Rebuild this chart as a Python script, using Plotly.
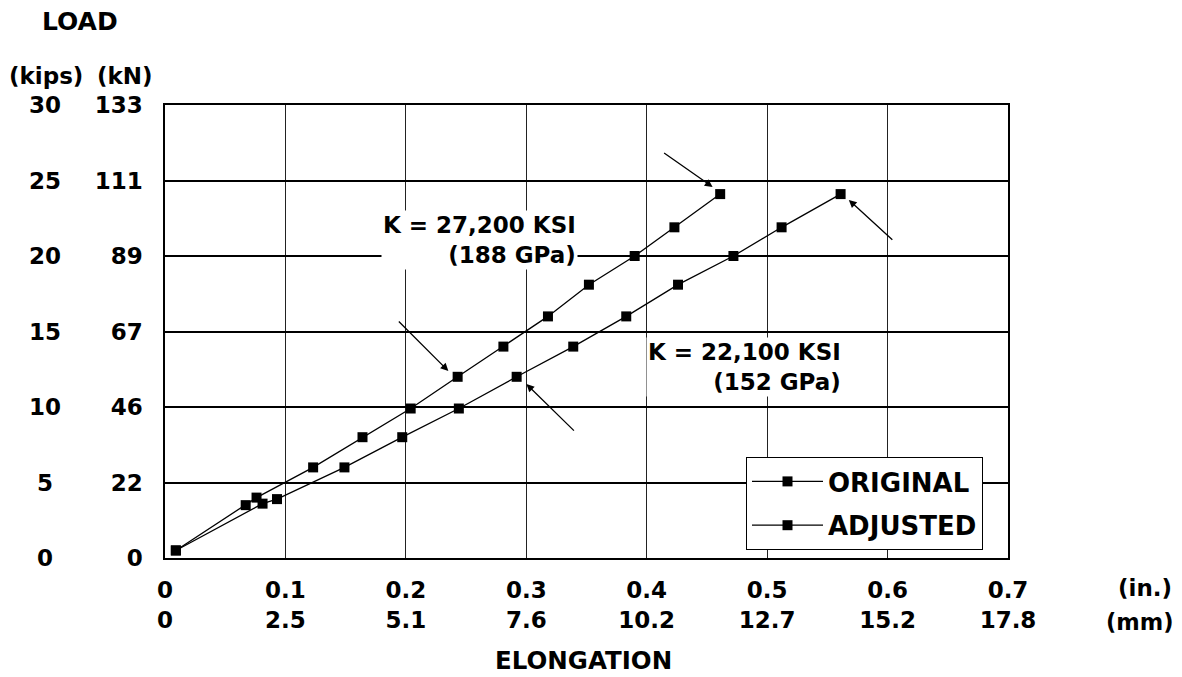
import plotly.graph_objects as go

# load-elongation readings (elongation in inches, load in kips)
orig_elong = [0.009, 0.067, 0.076, 0.123, 0.164, 0.204, 0.243, 0.281, 0.318, 0.352, 0.390, 0.423, 0.461]
orig_load = [0.5, 3.5, 4.0, 6.0, 8.0, 9.9, 12.0, 14.0, 16.0, 18.1, 20.0, 21.9, 24.1]

adj_elong = [0.009, 0.081, 0.093, 0.149, 0.197, 0.244, 0.292, 0.339, 0.383, 0.426, 0.472, 0.512, 0.561]
adj_load = [0.5, 3.6, 3.9, 6.0, 8.0, 9.9, 12.0, 14.0, 16.0, 18.1, 20.0, 21.9, 24.1]

# axis ticks
x_ticks = [0, 0.1, 0.2, 0.3, 0.4, 0.5, 0.6, 0.7]
mm_labels = ["0", "2.5", "5.1", "7.6", "10.2", "12.7", "15.2", "17.8"]
y_ticks = [0, 5, 10, 15, 20, 25, 30]
kn_labels = ["0", "22", "46", "67", "89", "111", "133"]


def font(size=23):
    return dict(family="DejaVu Sans", size=size, color="black", weight="bold")


# page is drawn with an 8px body margin, so the figure is that much smaller
OFF = 8
W, H = 1182 - OFF, 677 - OFF
ML, MT = 165 - OFF, 105 - OFF
MR, MB = W - (1008 - OFF), H - (558 - OFF)
PW, PH = 1008 - 165, 558 - 105


def px(x):  # page x pixel -> paper x
    return (x - 165) / PW


def py(y):  # page y pixel -> paper y
    return (558 - y) / PH


fig = go.Figure()
for name, xs, ys in [("ORIGINAL", orig_elong, orig_load), ("ADJUSTED", adj_elong, adj_load)]:
    fig.add_trace(go.Scatter(
        x=xs, y=ys, name=name, mode="lines+markers", legendgroup=name,
        line=dict(color="black", width=1.3),
        marker=dict(symbol="square", size=10, color="black"),
        cliponaxis=False,
    ))

fig.update_xaxes(
    range=[0, 0.7], tickvals=x_ticks,
    ticktext=[f"{v:g}<br>{m}" for v, m in zip(x_ticks, mm_labels)],
    showgrid=True, gridcolor="#222", gridwidth=1,
    showline=True, linecolor="black", linewidth=2, mirror=True,
    zeroline=False, ticks="", ticklabelstandoff=10, tickfont=font(),
)
fig.update_yaxes(
    range=[0, 30], tickvals=y_ticks, ticktext=kn_labels,
    showgrid=True, gridcolor="black", gridwidth=2,
    showline=True, linecolor="black", linewidth=1.5, mirror=True,
    zeroline=False, ticks="", ticklabelstandoff=16, tickfont=font(),
)


def label(x, y, text, size=23, **kw):
    return dict(x=px(x), y=py(y), xref="paper", yref="paper", text=text,
                showarrow=False, xanchor="center", yanchor="middle", font=font(size), **kw)


ann = []
# kips column
for v in y_ticks:
    ann.append(dict(x=px(45), y=v, xref="paper", yref="y", text=str(v),
                    showarrow=False, xanchor="center", yanchor="middle", font=font()))
ann += [
    label(80, 22, "LOAD", 25),
    label(46, 76, "(kips)"),
    label(125, 76, "(kN)"),
    label(1145, 588, "(in.)"),
    label(1139, 622, "(mm)", 22.5),
    label(583, 660, "ELONGATION", 24.5),
    dict(x=0.3433, y=21.06, xref="x", yref="y", text="K = 27,200 KSI<br>(188 GPa)",
         showarrow=False, align="right", xanchor="right", yanchor="middle",
         bgcolor="white", font=font()),
    dict(x=0.5628, y=12.65, xref="x", yref="y", text="K = 22,100 KSI<br>(152 GPa)",
         showarrow=False, align="right", xanchor="right", yanchor="middle",
         bgcolor="white", font=font()),
]
# pointer arrows (tip, tail)
arrows = [
    ((0.2353, 12.38), (0.1929, 15.76)),
    ((0.4547, 24.57), (0.4132, 26.89)),
    ((0.5678, 23.71), (0.6052, 20.99)),
    ((0.3001, 11.52), (0.3408, 8.34)),
]
for (tx, ty), (sx, sy) in arrows:
    ann.append(dict(x=tx, y=ty, ax=sx, ay=sy, xref="x", yref="y", axref="x", ayref="y",
                    text="", showarrow=True, arrowhead=2, arrowsize=1.2, arrowwidth=1.3,
                    arrowcolor="black", standoff=0))

fig.update_layout(
    width=W, height=H,
    margin=dict(l=ML, r=MR, t=MT, b=MB, autoexpand=False),
    paper_bgcolor="white", plot_bgcolor="white",
    font=font(),
    annotations=ann,
    showlegend=True,
    legend=dict(
        x=px(746), y=py(550), xanchor="left", yanchor="bottom",
        bgcolor="white", bordercolor="black", borderwidth=1,
        font=font(26), traceorder="grouped", tracegroupgap=7, itemwidth=71,
    ),
)

fig.write_html("out.html")
